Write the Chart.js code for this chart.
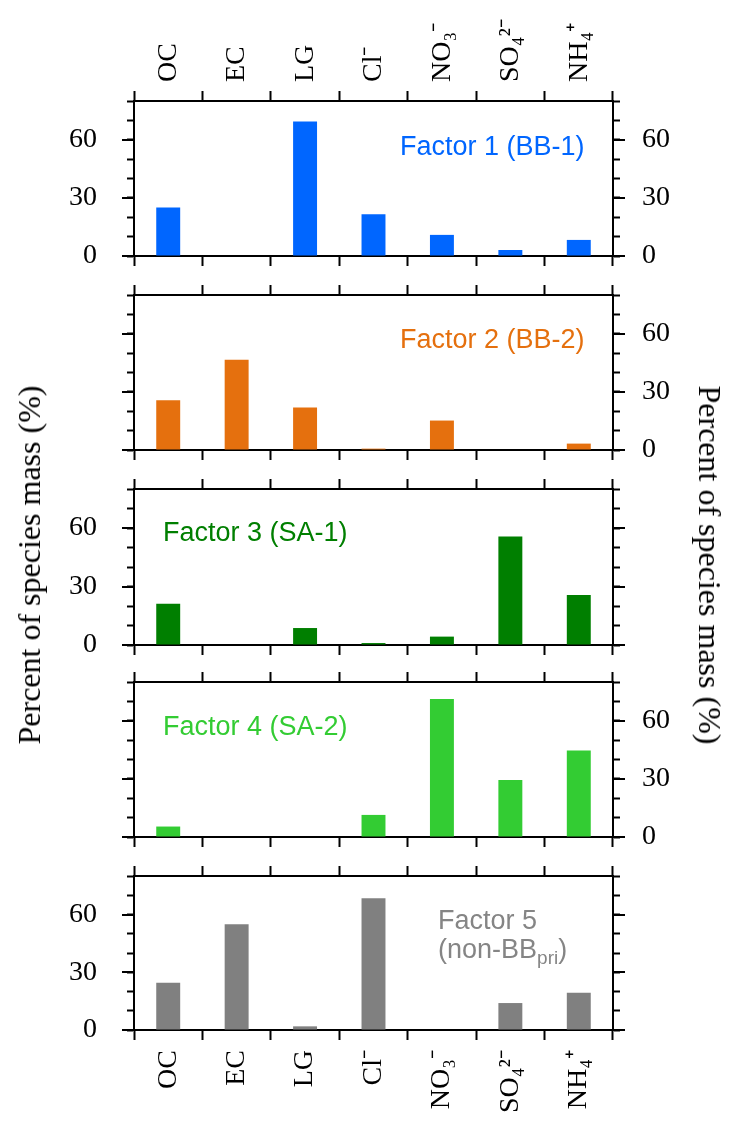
<!DOCTYPE html>
<html><head><meta charset="utf-8">
<script src="https://cdn.jsdelivr.net/npm/chart.js@4"></script>
<style>
html,body{margin:0;padding:0;background:#fff;}
#wrap{position:relative;width:732px;height:1122px;overflow:hidden;background:#fff;}
#wrap canvas{position:absolute;left:0;}
.ann{position:absolute;font-family:'Liberation Sans',Arial,sans-serif;font-size:27px;line-height:27px;white-space:nowrap;}
.ann sub{font-size:19px;line-height:0;vertical-align:-6px;}
.ttl{position:absolute;font-family:'Liberation Serif','Times New Roman',serif;font-size:32px;line-height:32px;white-space:nowrap;color:#000;transform:translate(-50%,-50%) rotate(-90deg);}
.ttl.r{transform:translate(-50%,-50%) rotate(90deg);}
</style></head><body>
<div id="wrap">
  <div class="ttl" style="left:29px;top:565px;">Percent of species mass (%)</div>
  <div class="ttl r" style="left:710px;top:565px;">Percent of species mass (%)</div>
  <div class="ann" style="left:400px;top:133px;color:#0066FF;">Factor 1 (BB-1)</div>
  <div class="ann" style="left:400px;top:326px;color:#E5700E;">Factor 2 (BB-2)</div>
  <div class="ann" style="left:163px;top:519px;color:#007F00;">Factor 3 (SA-1)</div>
  <div class="ann" style="left:163px;top:713px;color:#33CC33;">Factor 4 (SA-2)</div>
  <div class="ann" style="left:438px;top:907px;color:#858585;">Factor 5</div>
  <div class="ann" style="left:438px;top:936px;color:#858585;">(non-BB<sub>pri</sub>)</div>
</div>
<script>
// ---- data ----
const categories = ['OC', 'EC', 'LG', 'Cl\u207B', 'NO\u2083\u207B', 'SO\u2084\u00B2\u207B', 'NH\u2084\u207A'];
const factor1 = [25.0, 0, 69.4, 21.6, 10.9, 3.1, 8.3];   // BB-1
const factor2 = [25.7, 46.6, 22.0, 0.7, 15.2, 0, 3.3];   // BB-2
const factor3 = [21.1, 0, 8.7, 1.0, 4.3, 55.6, 25.7];    // SA-1
const factor4 = [5.4, 0, 0, 11.4, 71.2, 29.4, 44.6];     // SA-2
const factor5 = [24.5, 55.0, 1.9, 68.5, 0, 14.0, 19.3];  // non-BBpri
const yTickLabels = [0, 30, 60];

// ---- layout / style ----
const series = [factor1, factor2, factor3, factor4, factor5];
const colors = ['#0066FF', '#E5700E', '#007F00', '#33CC33', '#808080'];
const W = 732, H = 1122, plotLeft = 134, plotRight = 613;
const tops = [101, 295, 489, 682, 876];
const bottoms = [256, 450, 645, 837, 1030];
const showLeft = [true, false, true, false, true];
const showRight = [true, true, false, true, false];
const serif = "'Liberation Serif','Times New Roman',serif";

const majorTicks = {
  id: 'majorTicks',
  afterDraw(chart) {
    const ctx = chart.ctx;
    ctx.save();
    ctx.strokeStyle = '#000';
    ctx.lineWidth = 2;
    ['y', 'y2'].forEach(id => {
      const s = chart.scales[id];
      yTickLabels.forEach(v => {
        const p = Math.round(s.getPixelForValue(v));
        ctx.beginPath();
        if (id === 'y') { ctx.moveTo(s.right - 12, p); ctx.lineTo(s.right, p); }
        else { ctx.moveTo(s.left, p); ctx.lineTo(s.left + 12, p); }
        ctx.stroke();
      });
    });
    ctx.restore();
  }
};

const wrap = document.getElementById('wrap');
for (let i = 0; i < 5; i++) {
  const cTop = i === 0 ? 0 : tops[i] - 32;
  const cBot = i === 4 ? H : bottoms[i] + 24;
  const topH = tops[i] - cTop, botH = cBot - bottoms[i];
  const cv = document.createElement('canvas');
  cv.width = W; cv.height = cBot - cTop;
  cv.style.top = cTop + 'px';
  cv.style.width = W + 'px'; cv.style.height = (cBot - cTop) + 'px';
  wrap.insertBefore(cv, wrap.firstChild);

  const xGrid = { offset: true, drawOnChartArea: false, drawTicks: true, tickLength: 10, tickWidth: 2, tickColor: '#000' };
  const yGrid = { drawOnChartArea: false, drawTicks: true, tickLength: 7, tickWidth: 2, tickColor: '#000' };
  const border = { display: true, color: '#000', width: 2 };
  const tickFont = { family: serif, size: 28 };
  const yCb = v => (yTickLabels.includes(v) ? v : '');
  const fitH = h => s => { s.height = h; s.paddingLeft = 0; s.paddingRight = 0; s.paddingTop = 0; s.paddingBottom = 0; };
  const fitW = w => s => { s.width = w; s.paddingLeft = 0; s.paddingRight = 0; s.paddingTop = 0; s.paddingBottom = 0; };

  new Chart(cv, {
    type: 'bar',
    data: {
      labels: categories,
      datasets: [{
        data: series[i], backgroundColor: colors[i], borderWidth: 0,
        categoryPercentage: 1, barPercentage: 0.35, xAxisID: 'x', yAxisID: 'y'
      }]
    },
    options: {
      responsive: false, animation: false, devicePixelRatio: 1,
      layout: { padding: 0 },
      plugins: { legend: { display: false }, tooltip: { enabled: false }, title: { display: false } },
      scales: {
        x: {
          type: 'category', position: 'bottom', offset: true, grid: xGrid, border,
          ticks: { display: i === 4, autoSkip: false, minRotation: 90, maxRotation: 90, padding: 10, color: '#000', font: tickFont },
          afterFit: fitH(botH)
        },
        x2: {
          type: 'category', position: 'top', labels: categories, offset: true, grid: xGrid, border,
          ticks: { display: i === 0, autoSkip: false, minRotation: 90, maxRotation: 90, padding: 9, labelOffset: 34, color: '#000', font: tickFont },
          afterFit: fitH(topH)
        },
        y: {
          position: 'left', min: 0, max: 80, grid: yGrid, border,
          ticks: { display: showLeft[i], stepSize: 10, autoSkip: false, callback: yCb, padding: 30, color: '#000', font: tickFont },
          afterFit: fitW(plotLeft)
        },
        y2: {
          position: 'right', min: 0, max: 80, grid: yGrid, border,
          ticks: { display: showRight[i], stepSize: 10, autoSkip: false, callback: yCb, padding: 22, color: '#000', font: tickFont },
          afterFit: fitW(W - plotRight)
        }
      }
    },
    plugins: [majorTicks]
  });
}
</script>
</body></html>
